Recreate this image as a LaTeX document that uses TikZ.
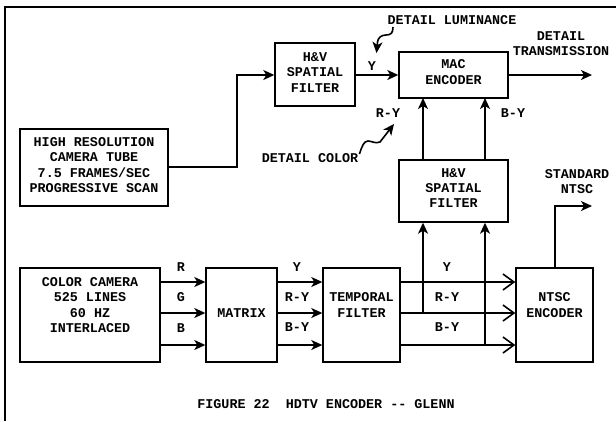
\documentclass[tikz,border=0pt]{standalone}
\usepackage{fontspec}
\setmonofont{Liberation Mono}
\usetikzlibrary{arrows.meta}
\begin{document}
\begin{tikzpicture}[x=1pt,y=-1pt,
  font=\ttfamily\bfseries\fontsize{13.4}{15.2}\selectfont,
  box/.style={draw,line width=1.4pt,inner sep=0pt},
  txt/.style={inner sep=0pt,align=center},
  wire/.style={line width=1.6pt},
  arr/.style={wire,-{Stealth[length=11pt,width=10pt,inset=3pt]}},
  oarr/.style={wire,-{Straight Barb[length=11pt,width=16pt,line width=1.6pt]}}]
\useasboundingbox (0,0) rectangle (616,421);
% frame
\draw[line width=1.8pt] (5,421) -- (5,7) -- (616,7);
% boxes
\node[box,minimum width=80pt,minimum height=63pt] (hvt) at (315,74.5) {};
\node[txt] (hvtt) at (315,72.5) {H\&V\\SPATIAL\\FILTER};
\node[box,minimum width=148pt,minimum height=77pt] (hr) at (94,167.5) {};
\node[txt] (hrt) at (94,165) {HIGH RESOLUTION\\CAMERA TUBE\\7.5 FRAMES/SEC\\PROGRESSIVE SCAN};
\node[box,minimum width=109pt,minimum height=46pt] (mac) at (453.5,75) {};
\node[txt] (mact) at (453.5,72) {MAC\\ENCODER};
\node[box,minimum width=109pt,minimum height=62pt] (hvl) at (453.5,191) {};
\node[txt] (hvlt) at (453.5,188) {H\&V\\SPATIAL\\FILTER};
\node[box,minimum width=140pt,minimum height=94pt] (cc) at (90,315) {};
\node[txt] (cct) at (90,305) {COLOR CAMERA\\525 LINES\\60 HZ\\INTERLACED};
\node[box,minimum width=71pt,minimum height=94pt] (mx) at (241.5,315) {};
\node[txt] (mxt) at (241.5,313) {MATRIX};
\node[box,minimum width=77pt,minimum height=94pt] (tf) at (361.5,315) {};
\node[txt] (tft) at (361.5,305) {TEMPORAL\\FILTER};
\node[box,minimum width=77pt,minimum height=94pt] (nt) at (554.5,315) {};
\node[txt] (ntt) at (554.5,305) {NTSC\\ENCODER};
% coordinates
\coordinate (o1) at (592,75);
\coordinate (o2) at (592,206);
\coordinate (b1) at (423,313);
\coordinate (b2) at (485,345);
% connectors
\draw[arr] (hr.east |- 0,167) -- (237,167) -- (237,75) -- (hvt.west |- 0,75);
\draw[arr] (hvt.east |- 0,75) -- (mac.west |- 0,75);
\draw[arr] (mac.east |- 0,75) -- (o1);
\draw[arr] (b1) -- (b1 |- hvl.south);
\draw[arr] (b2) -- (b2 |- hvl.south);
\draw[arr] (423,160) -- (423,98);
\draw[arr] (485,160) -- (485,98);
\foreach \y in {282,313,345}{
  \draw[arr] (cc.east |- 0,\y) -- (mx.west |- 0,\y);
  \draw[arr] (mx.east |- 0,\y) -- (tf.west |- 0,\y);
  \draw[oarr] (tf.east |- 0,\y) -- (nt.west |- 0,\y);
}
\draw[arr] (555,268) -- (555,206) -- (o2);
% labels
\node[txt] (lR) at (181,267) {R};
\node[txt] (lG) at (181,297) {G};
\node[txt] (lB) at (181,328) {B};
\node[txt] (mY) at (297,267) {Y};
\node[txt] (mRY) at (297,297) {R-Y};
\node[txt] (mBY) at (297,327) {B-Y};
\node[txt] (tY) at (447,267) {Y};
\node[txt] (tRY) at (447,297) {R-Y};
\node[txt] (tBY) at (447,327) {B-Y};
\node[txt] (yl) at (372,66) {Y};
\node[txt] (ry) at (388,113) {R-Y};
\node[txt] (by) at (513,113) {B-Y};
\node[txt] (dl) at (452,20) {DETAIL LUMINANCE};
\node[txt] (dt) at (561,43.5) {DETAIL\\TRANSMISSION};
\node[txt] (sn) at (577,181.5) {STANDARD\\NTSC};
\node[txt] (dc) at (310,158) {DETAIL COLOR};
\node[txt] (fig) at (326,404) {FIGURE 22~~HDTV ENCODER -{}- GLENN};
% squiggles
\draw[arr] (393,27) .. controls (393,33) and (391,35) .. (386,35)
  .. controls (381,35) and (378,38) .. (377.5,42) -- (376.5,53);
\draw[arr] (dc.east) ++(1,-4) .. controls (362,146) and (364,141) .. (368,141)
  .. controls (372,141) and (375,144) .. (380,142) -- (394,124);
\end{tikzpicture}
\end{document}
